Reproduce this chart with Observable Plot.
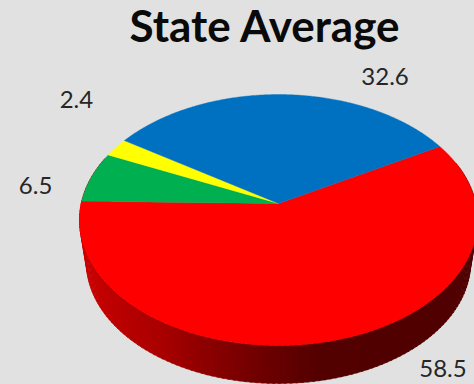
<!DOCTYPE html>
<html>
<head>
<meta charset="utf-8">
<script src="https://cdn.jsdelivr.net/npm/d3@7"></script>
<script src="https://cdn.jsdelivr.net/npm/@observablehq/plot@0.6"></script>
<style>
  html, body { margin: 0; padding: 0; background: #e1e1e1; overflow: hidden; }
</style>
</head>
<body>
<div id="chart"></div>
<script>
// Slice values in percent, clockwise from the blue/red boundary.
const sliceNames = ["red", "green", "yellow", "blue"];
const sliceValues = [58.5, 6.5, 2.4, 32.6];
const sliceColors = ["#ff0000", "#00b050", "#ffff00", "#0070c0"];
const titleText = "State Average";

// Pie tilt: start angle in degrees and strength of the perspective foreshortening.
const startAngle = 60.5;
const perspective = 0.1315;

// Lower rim of the extruded wall, relative to the upper rim.
const rimScale = 0.965;
const rimDrop = 0.348;

// Shift of each value label from the rim point at its slice's middle angle.
const labelShift = [[109, 29], [-56, 9.5], [-39.5, -47], [101, -17]];

// Unit circle seen in perspective; angle 0 points away from the viewer.
function project(deg) {
  const a = (deg * Math.PI) / 180;
  const u = Math.sin(a);
  const v = -Math.cos(a);
  const w = 1 - perspective * v;
  return { X: u / w, Y: v / w };
}

// Slice boundaries in degrees.
const total = d3.sum(sliceValues);
let running = startAngle;
const slices = sliceNames.map((name, i) => {
  const a0 = running;
  const a1 = a0 + (sliceValues[i] / total) * 360;
  running = a1;
  return { name, value: sliceValues[i], color: sliceColors[i], a0, a1, mid: (a0 + a1) / 2 };
});

// Outline of a wedge: centre, arc, back to the centre.
function wedge(s) {
  const n = Math.ceil(s.a1 - s.a0) * 2;
  const arc = d3.range(n + 1).map((i) => project(s.a0 + ((s.a1 - s.a0) * i) / n));
  return [{ X: 0, Y: 0 }, ...arc, { X: 0, Y: 0 }];
}

// Shading of the wall runs from mid red on the left to deep maroon right of the middle.
const wallShade = d3.scaleLinear()
  .domain([-1, -0.6, -0.395, -0.09, 0.21, 1])
  .range(["#c80000", "#a80000", "#8e0000", "#6e0000", "#520000", "#500000"])
  .interpolate(d3.interpolateRgb)
  .clamp(true);

// Wall as narrow quads along the front of the rim.
const wallStrips = d3.range(70, 292, 1.5).flatMap((deg) => {
  const p = project(deg);
  const q = project(deg + 2);
  const low = (r) => ({ X: r.X * rimScale, Y: r.Y * rimScale + rimDrop });
  const color = d3.color(wallShade((p.X + q.X) / 2)).formatHex();
  return [p, q, low(q), low(p)].map((r) => ({ ...r, strip: deg, color }));
});

const chart = Plot.plot({
  width: 474,
  height: 384,
  margin: 0,
  style: { background: "transparent" },
  x: { domain: [-1, 1], range: [278 - 197.3, 278 + 197.3], axis: null },
  y: { domain: [-1, 1], range: [203 - 123.3, 203 + 123.3], axis: null },
  marks: [
    Plot.line(wallStrips, {
      x: "X", y: "Y", z: "strip",
      fill: "color", stroke: "color", strokeWidth: 0.6
    }),
    ...slices.map((s) =>
      Plot.line(wedge(s), { x: "X", y: "Y", fill: s.color, stroke: s.color, strokeWidth: 0.4 })
    ),
    ...slices.map((s, i) =>
      Plot.text([s], {
        x: (d) => project(d.mid).X,
        y: (d) => project(d.mid).Y,
        text: (d) => d.value.toFixed(1),
        dx: labelShift[i][0],
        dy: labelShift[i][1],
        fontFamily: "Lato",
        fontSize: 24,
        fill: "#262626"
      })
    ),
    Plot.text([titleText], {
      frameAnchor: "top-left",
      dx: 264,
      dy: 10,
      textAnchor: "middle",
      fontFamily: "Lato",
      fontWeight: 700,
      fontSize: 44,
      fill: "#0a0a0a"
    })
  ]
});

document.getElementById("chart").appendChild(chart);
</script>
</body>
</html>
